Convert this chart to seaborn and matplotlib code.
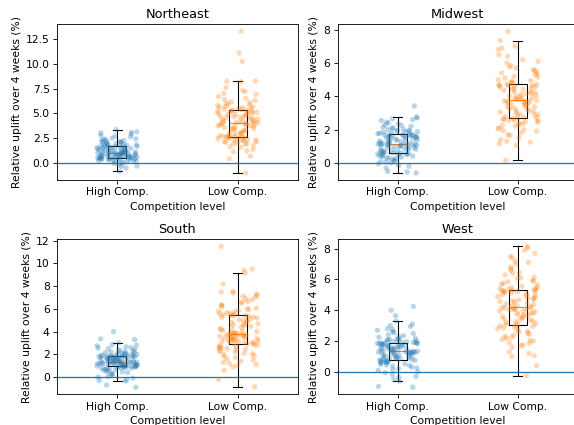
import numpy as np
import pandas as pd
import seaborn as sns
import matplotlib.pyplot as plt

## values (uplift in %), one list per region and competition level
regions = ["Northeast", "Midwest", "South", "West"]
groups = ["High Comp.", "Low Comp."]

northeast_high = [-0.9, -0.55, -0.4, -0.22, -0.1, 0.02, 0.08, 0.15, 0.18, 0.24, 0.3, 0.33, 0.37, 0.4, 0.43, 0.45, 0.47, 0.49,
                  0.51, 0.54, 0.57, 0.6, 0.62, 0.66, 0.69, 0.72, 0.75, 0.78, 0.8, 0.84, 0.87, 0.9, 0.92, 0.95, 0.97, 0.99,
                  1.01, 1.05, 1.08, 1.12, 1.17, 1.2, 1.25, 1.28, 1.33, 1.36, 1.4, 1.45, 1.49, 1.53, 1.57, 1.61, 1.65, 1.69,
                  1.71, 1.76, 1.82, 1.88, 1.93, 2.0, 2.08, 2.15, 2.22, 2.3, 2.38, 2.48, 2.6, 2.75, 2.88, 3.0, 3.12, 3.35,
                  -0.35, -0.05, 0.1, 0.2, 0.28, 0.35, 0.38, 0.42, 0.46, 0.48, 0.53, 0.58, 0.64, 0.7, 0.74, 0.79, 0.83, 0.88, 0.93, 0.98,
                  1.03, 1.1, 1.15, 1.22, 1.3, 1.38, 1.43, 1.5, 1.59, 1.67, 1.74, 1.8, 1.9, 1.98, 2.05, 2.12, 2.25, 2.4, 2.7, 3.05]
northeast_low = [-1.05, 0.4, 0.65, 1.1, 1.3, 1.55, 1.7, 1.85, 1.95, 2.0, 2.1, 2.2, 2.25, 2.3, 2.4, 2.45, 2.5, 2.55, 2.6, 2.62,
                 2.68, 2.75, 2.85, 2.95, 3.05, 3.15, 3.25, 3.35, 3.45, 3.5, 3.6, 3.68, 3.75, 3.82, 3.88, 3.95, 4.0, 4.04,
                 4.06, 4.12, 4.2, 4.3, 4.38, 4.45, 4.5, 4.58, 4.65, 4.72, 4.8, 4.88, 4.95, 5.02, 5.1, 5.15, 5.22, 5.28,
                 5.32, 5.4, 5.5, 5.6, 5.7, 5.78, 5.85, 6.0, 6.15, 6.3, 6.5, 6.7, 7.0, 7.3, 8.2, 8.22, 8.25, 10.25, 11.1, 13.3,
                 1.2, 1.6, 1.9, 2.05, 2.15, 2.28, 2.35, 2.48, 2.58, 2.64, 2.7, 2.9, 3.1, 3.3, 3.4, 3.55, 3.7, 3.85, 3.92, 4.02,
                 4.1, 4.25, 4.4, 4.55, 4.7, 4.85, 5.0, 5.08, 5.18, 5.26, 5.35, 5.45, 5.55, 5.65, 5.9, 6.1, 6.4, 6.9, 7.2, 7.6]

midwest_high = [-0.6, -0.55, -0.5, -0.3, -0.15, -0.05, 0.05, 0.12, 0.2, 0.25, 0.3, 0.35, 0.4, 0.45, 0.48, 0.52, 0.56, 0.59,
                0.61, 0.65, 0.7, 0.74, 0.78, 0.82, 0.86, 0.9, 0.94, 0.97, 1.0, 1.03, 1.06, 1.08, 1.1, 1.12, 1.13, 1.14,
                1.16, 1.2, 1.24, 1.28, 1.32, 1.36, 1.4, 1.44, 1.48, 1.5, 1.53, 1.56, 1.59, 1.62, 1.64, 1.66, 1.68, 1.69,
                1.71, 1.75, 1.8, 1.84, 1.88, 1.92, 1.97, 2.02, 2.08, 2.15, 2.2, 2.28, 2.35, 2.45, 2.55, 2.6, 2.7, 2.75, 3.42,
                -0.2, 0.0, 0.1, 0.18, 0.28, 0.38, 0.42, 0.5, 0.54, 0.58, 0.63, 0.68, 0.76, 0.84, 0.92, 0.99, 1.04, 1.09, 1.11, 1.135,
                1.18, 1.22, 1.3, 1.38, 1.42, 1.46, 1.52, 1.58, 1.63, 1.67, 1.73, 1.78, 1.86, 1.9, 1.95, 2.0, 2.1, 2.25, 2.4, 2.65]
midwest_low = [0.15, 1.05, 1.15, 1.25, 1.4, 1.5, 1.65, 1.8, 1.9, 2.0, 2.1, 2.2, 2.3, 2.4, 2.48, 2.55, 2.6, 2.66,
               2.7, 2.78, 2.86, 2.94, 3.0, 3.08, 3.15, 3.22, 3.3, 3.36, 3.42, 3.48, 3.54, 3.6, 3.65, 3.69, 3.72, 3.74,
               3.76, 3.82, 3.88, 3.94, 4.0, 4.06, 4.12, 4.18, 4.24, 4.3, 4.36, 4.42, 4.48, 4.54, 4.6, 4.64, 4.67, 4.69,
               4.72, 4.8, 4.9, 5.0, 5.1, 5.2, 5.3, 5.4, 5.5, 5.6, 5.7, 5.85, 6.0, 6.2, 6.5, 6.8, 7.0, 7.35, 7.9,
               1.3, 1.7, 1.95, 2.05, 2.25, 2.35, 2.45, 2.52, 2.58, 2.64, 2.74, 2.82, 2.9, 3.05, 3.12, 3.26, 3.4, 3.52, 3.62, 3.7,
               3.79, 3.85, 3.97, 4.03, 4.15, 4.27, 4.4, 4.5, 4.58, 4.66, 4.75, 4.85, 4.95, 5.15, 5.35, 5.55, 5.75, 6.1, 6.4, 6.9]

south_high = [-0.9, -0.7, -0.35, -0.3, -0.25, -0.1, 0.05, 0.2, 0.3, 0.4, 0.5, 0.6, 0.65, 0.72, 0.78, 0.82, 0.86, 0.9, 0.92, 0.94,
              0.96, 0.99, 1.02, 1.05, 1.08, 1.1, 1.13, 1.16, 1.19, 1.21, 1.24, 1.26, 1.28, 1.3, 1.31, 1.32, 1.33, 1.34,
              1.36, 1.4, 1.44, 1.48, 1.52, 1.56, 1.6, 1.63, 1.66, 1.69, 1.72, 1.75, 1.77, 1.79, 1.81, 1.82, 1.83, 1.84,
              1.86, 1.9, 1.95, 2.0, 2.05, 2.1, 2.15, 2.2, 2.25, 2.3, 2.4, 2.5, 2.55, 2.65, 2.75, 2.85, 3.0, 3.3, 3.35, 4.0,
              0.0, 0.25, 0.45, 0.55, 0.68, 0.75, 0.8, 0.85, 0.88, 0.93, 0.97, 1.0, 1.04, 1.07, 1.12, 1.18, 1.22, 1.27, 1.29, 1.335,
              1.38, 1.42, 1.5, 1.58, 1.62, 1.68, 1.71, 1.74, 1.78, 1.8, 1.88, 1.92, 1.98, 2.02, 2.08, 2.18, 2.28, 2.45, 2.6, 2.8]
south_low = [-0.85, -0.2, 0.6, 0.9, 1.1, 1.2, 1.3, 1.5, 1.7, 1.9, 2.0, 2.1, 2.2, 2.35, 2.45, 2.5, 2.55, 2.65, 2.75, 2.85,
             2.92, 2.98, 3.05, 3.1, 3.15, 3.2, 3.25, 3.3, 3.35, 3.4, 3.45, 3.5, 3.55, 3.6, 3.62, 3.65, 3.7, 3.74, 3.77, 3.79,
             3.82, 3.9, 4.0, 4.1, 4.2, 4.3, 4.4, 4.5, 4.6, 4.7, 4.8, 4.9, 5.0, 5.1, 5.2, 5.28, 5.35, 5.4, 5.44,
             5.47, 5.55, 5.65, 5.75, 5.85, 5.95, 6.05, 6.2, 6.35, 6.5, 6.65, 6.8, 7.0, 7.2, 7.4, 7.55, 8.2, 9.15, 9.4, 9.5, 11.5,
             1.0, 1.4, 1.6, 1.8, 2.05, 2.25, 2.4, 2.6, 2.7, 2.8, 2.95, 3.02, 3.12, 3.22, 3.28, 3.38, 3.48, 3.58, 3.68, 3.76,
             3.86, 3.95, 4.05, 4.25, 4.45, 4.65, 4.85, 5.05, 5.25, 5.42, 5.5, 5.6, 5.8, 6.0, 6.3, 6.6, 6.9, 7.1, 7.3, 7.5]

west_high = [-1.0, -0.95, -0.6, -0.5, -0.35, -0.2, -0.05, 0.1, 0.2, 0.3, 0.38, 0.45, 0.5, 0.55, 0.6, 0.65, 0.7, 0.74, 0.77, 0.79,
             0.82, 0.86, 0.9, 0.95, 1.0, 1.04, 1.08, 1.12, 1.16, 1.2, 1.23, 1.26, 1.28, 1.3, 1.31, 1.32, 1.33, 1.34,
             1.36, 1.4, 1.45, 1.5, 1.55, 1.6, 1.64, 1.68, 1.72, 1.75, 1.78, 1.8, 1.82, 1.84, 1.86, 1.87, 1.88, 1.89,
             1.91, 1.95, 2.0, 2.05, 2.1, 2.15, 2.2, 2.3, 2.4, 2.5, 2.6, 2.7, 2.8, 3.0, 3.1, 3.3, 3.65, 4.0, 4.25,
             -0.3, 0.0, 0.15, 0.25, 0.42, 0.52, 0.62, 0.68, 0.72, 0.76, 0.84, 0.88, 0.93, 0.98, 1.06, 1.1, 1.18, 1.22, 1.27, 1.29,
             1.38, 1.42, 1.48, 1.52, 1.58, 1.62, 1.66, 1.7, 1.76, 1.85, 1.93, 1.97, 2.02, 2.08, 2.12, 2.25, 2.35, 2.55, 2.75, 2.95]
west_low = [-0.25, 0.4, 1.0, 1.05, 1.2, 1.6, 1.75, 1.9, 2.0, 2.1, 2.2, 2.3, 2.4, 2.5, 2.6, 2.7, 2.8, 2.9, 3.0,
            3.08, 3.15, 3.22, 3.3, 3.38, 3.45, 3.52, 3.6, 3.66, 3.72, 3.78, 3.84, 3.9, 3.96, 4.02, 4.08, 4.12, 4.16, 4.19,
            4.22, 4.3, 4.38, 4.46, 4.54, 4.6, 4.68, 4.75, 4.82, 4.9, 4.96, 5.02, 5.08, 5.14, 5.2, 5.25, 5.29, 5.32, 5.34,
            5.37, 5.45, 5.55, 5.65, 5.75, 5.85, 5.95, 6.05, 6.15, 6.3, 6.45, 6.6, 6.8, 7.0, 7.2, 7.4, 7.7, 8.05, 8.15,
            1.3, 1.7, 1.85, 2.05, 2.25, 2.45, 2.65, 2.85, 2.95, 3.02, 3.12, 3.26, 3.42, 3.56, 3.7, 3.82, 3.94, 4.05, 4.1, 4.18,
            4.26, 4.42, 4.58, 4.72, 4.86, 5.0, 5.12, 5.22, 5.28, 5.33, 5.4, 5.5, 5.7, 5.9, 6.1, 6.4, 6.7, 7.1, 7.5, 7.9]

values = {
    "Northeast": (northeast_high, northeast_low),
    "Midwest": (midwest_high, midwest_low),
    "South": (south_high, south_low),
    "West": (west_high, west_low),
}

## figure - rendered at a lower dpi so text and marks come out at the reference scale
np.random.seed(0)  # only for the strip jitter
dpi = 77
fig, axes = plt.subplots(2, 2, figsize=(574 / dpi, 425 / dpi), dpi=dpi)

positions = [
    [0.0998, 0.5765, 0.4188, 0.3664],
    [0.5883, 0.5765, 0.4188, 0.3664],
    [0.0998, 0.0722, 0.4188, 0.3647],
    [0.5883, 0.0722, 0.4188, 0.3647],
]

for ax, region, pos in zip(axes.flat, regions, positions):
    high, low = values[region]
    df = pd.DataFrame({
        "group": [groups[0]] * len(high) + [groups[1]] * len(low),
        "uplift": high + low,
    })
    sns.stripplot(data=df, x="group", y="uplift", hue="group", order=groups, hue_order=groups,
                  palette=["C0", "C1"], jitter=0.17, alpha=0.3, size=5, legend=False, ax=ax)
    ax.boxplot([high, low], positions=[0, 1], widths=0.15, showfliers=False, manage_ticks=False)
    ax.axhline(0, color="#1f77b4", lw=1.2)
    ax.set_xlim(-0.5, 1.5)
    ax.set_xticks([0, 1], groups)
    ax.set_title(region)
    ax.set_xlabel("Competition level")
    ax.set_ylabel("Relative uplift over 4 weeks (%)")
    ax.set_position(pos)

fig.savefig("out.png", dpi=dpi)
